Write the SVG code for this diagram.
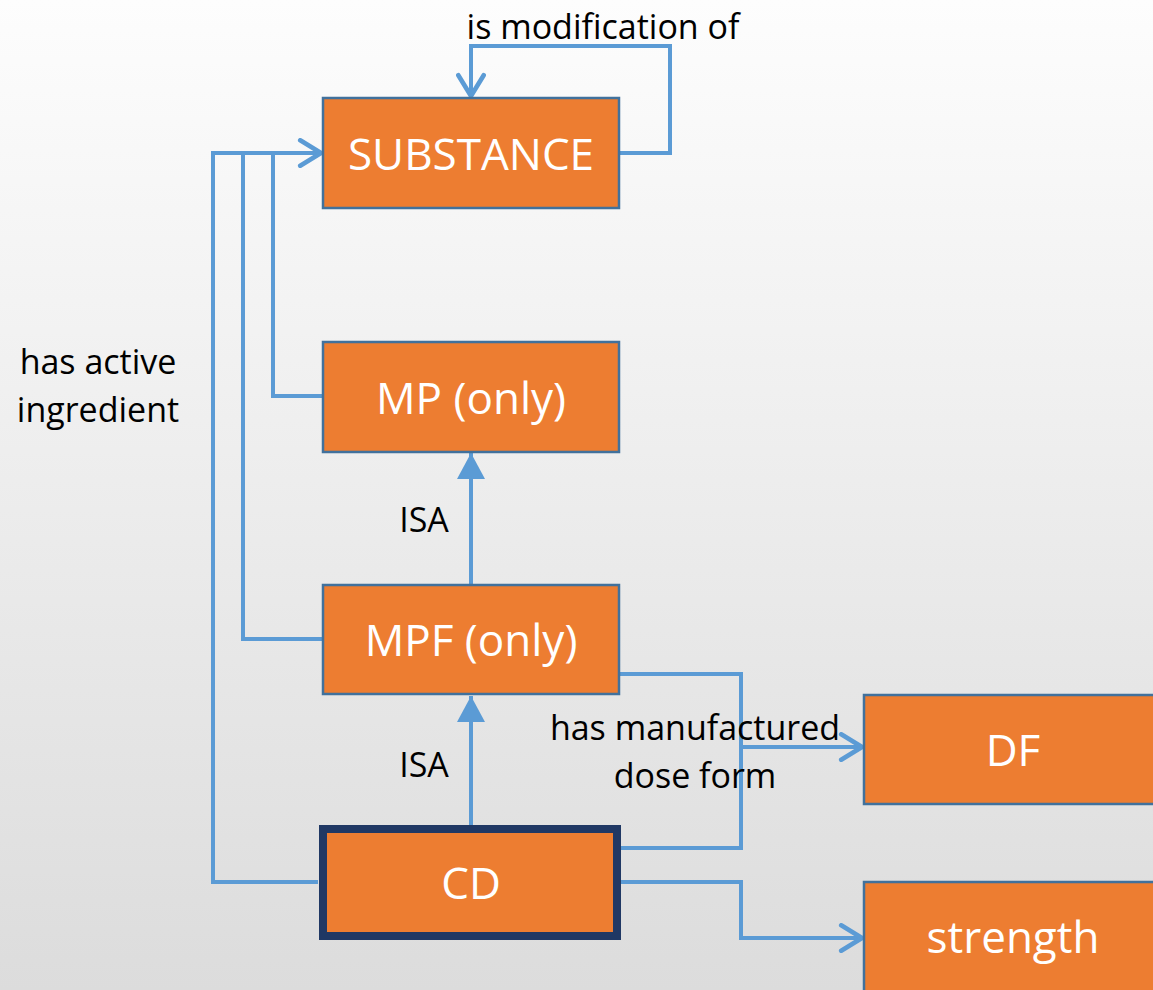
<svg xmlns="http://www.w3.org/2000/svg" width="1153" height="990" viewBox="0 0 1153 990">
  <defs>
    <linearGradient id="bg" x1="0" y1="0" x2="0" y2="1">
      <stop offset="0" stop-color="#fdfdfd"/>
      <stop offset="1" stop-color="#dcdcdc"/>
    </linearGradient>
    <marker id="open" markerUnits="userSpaceOnUse" markerWidth="30" markerHeight="30" viewBox="-22 -13 26 26" refX="0" refY="0" orient="auto">
      <path d="M-18,-11 L0,0 L-18,11" fill="none" stroke="#5b9bd5" stroke-width="4" stroke-linecap="round" stroke-linejoin="round"/>
    </marker>
    <marker id="tri" markerUnits="userSpaceOnUse" markerWidth="30" markerHeight="30" viewBox="-28 -15 30 30" refX="0" refY="0" orient="auto">
      <path d="M-26,-14 L0,0 L-26,14 Z" fill="#5b9bd5"/>
    </marker>
  </defs>
  <style>
    .node { fill: #ed7d31; stroke: #41719c; stroke-width: 2.5; }
    .focus { fill: #ed7d31; stroke: #203864; stroke-width: 8; }
    .ntext { font-family: "Open Sans", "Liberation Sans", sans-serif; font-size: 44px; fill: #ffffff; text-anchor: middle; }
    .label { font-family: "Open Sans", "Liberation Sans", sans-serif; font-size: 34px; fill: #000000; text-anchor: middle; }
    .edge { fill: none; stroke: #5b9bd5; stroke-width: 4; }
  </style>

  <rect x="0" y="0" width="1153" height="990" fill="url(#bg)"/>

  <g id="connectors">
    <!-- is modification of (self loop) -->
    <path class="edge" d="M620,153 H670 V46 H471 V96" marker-end="url(#open)"/>
    <!-- has active ingredient -->
    <path class="edge" d="M323,396 H273 V153"/>
    <path class="edge" d="M323,639 H243 V153"/>
    <path class="edge" d="M318,882 H213 V153 H321" marker-end="url(#open)"/>
    <!-- ISA -->
    <path class="edge" d="M471,584 V453" marker-end="url(#tri)"/>
    <path class="edge" d="M471,826 V696" marker-end="url(#tri)"/>
    <!-- has manufactured dose form -->
    <path class="edge" d="M620,674 H741 V848 H620"/>
    <path class="edge" d="M741,747 H862" marker-end="url(#open)"/>
    <!-- strength -->
    <path class="edge" d="M620,882 H741 V938 H862" marker-end="url(#open)"/>
  </g>

  <g id="labels">
    <text class="label" x="603" y="39">is modification of</text>
    <text class="label" x="98" y="374">has active</text>
    <text class="label" x="98" y="422">ingredient</text>
    <text class="label" x="424" y="532">ISA</text>
    <text class="label" x="424" y="777">ISA</text>
    <text class="label" x="695" y="740">has manufactured</text>
    <text class="label" x="695" y="788">dose form</text>
  </g>

  <g id="substance">
    <rect class="node" x="323" y="98" width="296" height="110"/>
    <text class="ntext" x="471" y="170">SUBSTANCE</text>
  </g>
  <g id="mp">
    <rect class="node" x="323" y="342" width="296" height="110"/>
    <text class="ntext" x="471" y="414">MP (only)</text>
  </g>
  <g id="mpf">
    <rect class="node" x="323" y="585" width="296" height="109"/>
    <text class="ntext" x="471" y="656">MPF (only)</text>
  </g>
  <g id="cd">
    <rect class="focus" x="323" y="829" width="294" height="107"/>
    <text class="ntext" x="471" y="899">CD</text>
  </g>
  <g id="df">
    <rect class="node" x="864" y="695" width="300" height="109"/>
    <text class="ntext" x="1013" y="766">DF</text>
  </g>
  <g id="strength">
    <rect class="node" x="864" y="882" width="300" height="120"/>
    <text class="ntext" x="1013" y="953">strength</text>
  </g>
</svg>
